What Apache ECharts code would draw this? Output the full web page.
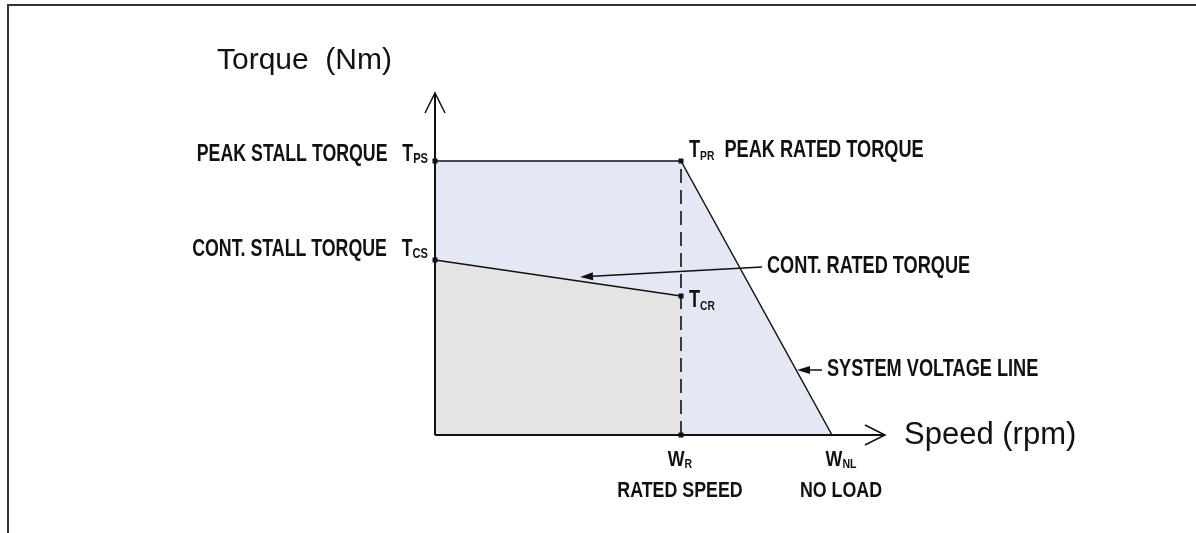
<!DOCTYPE html>
<html><head><meta charset="utf-8">
<script src="https://cdn.jsdelivr.net/npm/echarts@6/dist/echarts.min.js"></script>
<style>html,body{margin:0;padding:0;background:#fff}#c{width:1196px;height:533px}</style>
</head><body><div id="c"></div>
<script>
// ---- data (schematic torque / speed envelope) ----
const envelopeSpeed = [0, 2460, 3970];
const envelopeTorque = [27.4, 27.4, 0];
const contSpeed = [0, 2460];
const contTorque = [17.5, 13.9];
const ratedLineSpeed = [2460, 2460];
const ratedLineTorque = [0, 27.4];
const pointKeys = ['TPS', 'TCS', 'TPR', 'TCR', 'WR', 'WNL'];
const pointSpeed = [0, 0, 2460, 2460, 2460, 3970];
const pointTorque = [27.4, 17.5, 27.4, 13.9, 0, 0];
const pointLabels = [
  'PEAK STALL TORQUE   T{L|PS}',
  'CONT. STALL TORQUE   T{L|CS}',
  'T{s|PR}  PEAK RATED TORQUE',
  'T{s|CR}',
  'W{s|R}\n{b|RATED SPEED}',
  'W{s|NL}\n{b|NO LOAD}'
];
const calloutText = ['CONT. RATED TORQUE', 'SYSTEM VOLTAGE LINE'];
const calloutFrom = [[3270, 16.8], [3870, 6.5]];
const calloutTo = [[1450, 15.8], [3620, 6.5]];
const axisEnds = [[4500, 0], [0, 34.2]];
const axisNames = ['Speed (rpm)', 'Torque  (Nm)'];

// ---- styles ----
const BOLD = "'Liberation Sans', Arial, Helvetica, sans-serif";
const SANS = "'Liberation Sans', Arial, Helvetica, sans-serif";
const INK = '#111';
const richStyle = {
  s: { fontSize: 13, lineHeight: 13, fontWeight: 'bold', fontFamily: BOLD, fill: INK, verticalAlign: 'bottom' },
  L: { fontSize: 15, lineHeight: 15, fontWeight: 'bold', fontFamily: BOLD, fill: INK, verticalAlign: 'bottom' },
  b: { fontSize: 22, lineHeight: 31, fontWeight: 'bold', fontFamily: BOLD, fill: INK, verticalAlign: 'bottom' }
};
// pixel placement / size of each point label relative to its point
const labelPlacement = {
  TPS: { dx: -7, dy: -7, align: 'right', vAlign: 'middle', size: 24, scale: 0.74 },
  TCS: { dx: -7, dy: -11, align: 'right', vAlign: 'middle', size: 24, scale: 0.74 },
  TPR: { dx: 8, dy: -10, align: 'left', vAlign: 'middle', size: 23, scale: 0.79 },
  TCR: { dx: 8, dy: 5, align: 'left', vAlign: 'middle', size: 23, scale: 0.79 },
  WR: { dx: -1, dy: 14, align: 'center', vAlign: 'top', size: 22, scale: 0.81 },
  WNL: { dx: 9, dy: 14, align: 'center', vAlign: 'top', size: 22, scale: 0.81 }
};
const calloutSize = 23, calloutScale = 0.79;

const chart = echarts.init(document.getElementById('c'), null, { renderer: 'canvas' });
chart.setOption({
  animation: false,
  backgroundColor: '#fff',
  grid: { left: 435, top: 93, width: 450, height: 342 },
  xAxis: {
    type: 'value', min: 0, max: axisEnds[0][0],
    name: axisNames[0], nameLocation: 'end', nameGap: 19,
    nameTextStyle: { fontSize: 31, fontFamily: SANS, color: INK, align: 'left', verticalAlign: 'middle' },
    axisLine: { show: false }, axisTick: { show: false }, axisLabel: { show: false }, splitLine: { show: false }
  },
  yAxis: {
    type: 'value', min: 0, max: axisEnds[1][1],
    name: axisNames[1], nameLocation: 'end', nameGap: 32,
    nameTextStyle: { fontSize: 30, fontFamily: SANS, color: INK, align: 'right', verticalAlign: 'middle', padding: [0, 43, 0, 0] },
    axisLine: { show: false }, axisTick: { show: false }, axisLabel: { show: false }, splitLine: { show: false }
  },
  graphic: [{
    type: 'polyline', silent: true,
    shape: { points: [[8, 533], [8, 5], [1196, 5]] },
    style: { stroke: '#333', lineWidth: 2, fill: null }
  }],
  series: [
    {
      type: 'line', z: 1, symbol: 'none',
      data: envelopeSpeed.map((x, i) => [x, envelopeTorque[i]]),
      lineStyle: { color: INK, width: 1.5 },
      areaStyle: { color: '#e4e8f4', opacity: 1 }
    },
    {
      type: 'line', z: 2, symbol: 'none',
      data: contSpeed.map((x, i) => [x, contTorque[i]]),
      lineStyle: { color: INK, width: 1.5 },
      areaStyle: { color: '#e4e4e4', opacity: 1 }
    },
    {
      type: 'line', z: 3, symbol: 'none',
      data: ratedLineSpeed.map((x, i) => [x, ratedLineTorque[i]]),
      lineStyle: { color: '#3a3a3a', width: 2, type: [14, 7] }
    },
    {
      type: 'custom', z: 4,
      data: axisEnds,
      renderItem(params, api) {
        const o = api.coord([0, 0]);
        const e = api.coord([api.value(0), api.value(1)]);
        const dx = e[0] - o[0], dy = e[1] - o[1];
        const len = Math.hypot(dx, dy), ux = dx / len, uy = dy / len;
        const L = 20, W = 10;
        const b = [e[0] - ux * L, e[1] - uy * L];
        return {
          type: 'group', children: [
            { type: 'line', shape: { x1: o[0], y1: o[1], x2: e[0], y2: e[1] }, style: { stroke: INK, lineWidth: 2 } },
            { type: 'polyline', shape: { points: [[b[0] - uy * W, b[1] + ux * W], e, [b[0] + uy * W, b[1] - ux * W]] }, style: { stroke: INK, lineWidth: 1.5, fill: null } }
          ]
        };
      }
    },
    {
      type: 'custom', z: 5,
      data: calloutText.map((t, i) => [calloutFrom[i][0], calloutFrom[i][1], calloutTo[i][0], calloutTo[i][1], i]),
      renderItem(params, api) {
        const a = api.coord([api.value(0), api.value(1)]);
        const b = api.coord([api.value(2), api.value(3)]);
        const dx = b[0] - a[0], dy = b[1] - a[1];
        const len = Math.hypot(dx, dy), ux = dx / len, uy = dy / len;
        const L = 13, W = 4;
        const base = [b[0] - ux * L, b[1] - uy * L];
        return {
          type: 'group', children: [
            { type: 'line', shape: { x1: a[0], y1: a[1], x2: base[0], y2: base[1] }, style: { stroke: INK, lineWidth: 1.5 } },
            { type: 'polygon', shape: { points: [b, [base[0] - uy * W, base[1] + ux * W], [base[0] + uy * W, base[1] - ux * W]] }, style: { fill: INK } },
            {
              type: 'text', x: a[0] + 5, y: a[1], scaleX: calloutScale,
              style: { text: calloutText[api.value(4)], x: 0, y: 0, align: 'left', verticalAlign: 'middle', fontSize: calloutSize, fontWeight: 'bold', fontFamily: BOLD, fill: INK }
            }
          ]
        };
      }
    },
    {
      type: 'scatter', z: 6,
      symbol: 'rect',
      itemStyle: { color: INK, opacity: 1 },
      data: pointKeys.map((k, i) => ({ value: [pointSpeed[i], pointTorque[i]], symbolSize: k === 'WNL' ? 0 : 5 }))
    },
    {
      type: 'custom', z: 7,
      data: pointKeys.map((k, i) => [pointSpeed[i], pointTorque[i], i]),
      renderItem(params, api) {
        const i = api.value(2);
        const p = api.coord([api.value(0), api.value(1)]);
        const pl = labelPlacement[pointKeys[i]];
        return {
          type: 'text', x: p[0] + pl.dx, y: p[1] + pl.dy, scaleX: pl.scale,
          style: {
            text: pointLabels[i], x: 0, y: 0, align: pl.align, verticalAlign: pl.vAlign,
            fontSize: pl.size, lineHeight: pl.size, fontWeight: 'bold', fontFamily: BOLD, fill: INK,
            rich: richStyle
          }
        };
      }
    }
  ]
});
</script></body></html>
